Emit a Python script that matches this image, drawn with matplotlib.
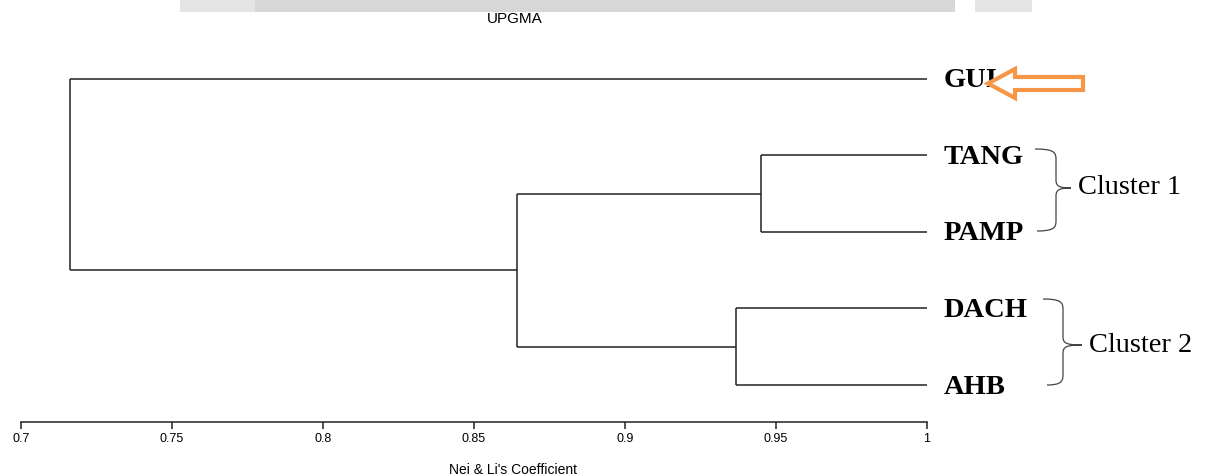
import numpy as np
import matplotlib.pyplot as plt
from matplotlib.path import Path
from matplotlib.patches import PathPatch, Polygon, Rectangle

# leaves (top to bottom) and UPGMA merges: node ids 0-4 are leaves, 5.. are new clusters
leaves = ['GUI', 'TANG', 'PAMP', 'DACH', 'AHB']
merge_left = [1, 3, 5, 0]
merge_right = [2, 4, 6, 7]
merge_sim = [0.945, 0.937, 0.8645, 0.7163]

clusters = ['Cluster 1', 'Cluster 2']
cluster_members = [(1, 2), (3, 4)]

xticks = [0.7, 0.75, 0.8, 0.85, 0.9, 0.95, 1.0]
xtick_labels = ['0.7', '0.75', '0.8', '0.85', '0.9', '0.95', '1']

W, H = 1205, 476
fig = plt.figure(figsize=(W / 100, H / 100), dpi=100)


def px(x, y):
    # pixel (top-left origin) -> figure fraction
    return (x / W, 1 - y / H)


# watermark band at the top
for x0, x1, col in [(180, 255, '#e4e4e4'), (255, 955, '#d7d7d7'), (975, 1032, '#e4e4e4')]:
    fig.patches.append(Rectangle(px(x0, 11.5), (x1 - x0) / W, 11.5 / H,
                                 transform=fig.transFigure, color=col, lw=0, zorder=0))

ax = fig.add_axes([20.7 / W, (H - 422) / H, 906 / W, 382 / H])
ax.set_xlim(0.7, 1.0)
ax.set_ylim(4.482, -0.505)

# dendrogram
node_x = {i: 1.0 for i in range(len(leaves))}
node_y = {i: float(i) for i in range(len(leaves))}
line_kw = dict(color='#222222', lw=1.1, solid_capstyle='butt')
for k, (l, r, s) in enumerate(zip(merge_left, merge_right, merge_sim)):
    nid = len(leaves) + k
    ax.plot([s, s], [node_y[l], node_y[r]], **line_kw)
    ax.plot([s, node_x[l]], [node_y[l], node_y[l]], **line_kw)
    ax.plot([s, node_x[r]], [node_y[r], node_y[r]], **line_kw)
    node_x[nid] = s
    node_y[nid] = (node_y[l] + node_y[r]) / 2

for i, name in enumerate(leaves):
    ax.annotate(name, (1.0, i), xytext=(12, -1.5), textcoords='offset points',
                ha='left', va='center', fontsize=20.5, fontweight='bold',
                family='Liberation Serif', annotation_clip=False)

for sp in ['top', 'right', 'left']:
    ax.spines[sp].set_visible(False)
ax.spines['bottom'].set_color('#222222')
ax.spines['bottom'].set_linewidth(1.1)
ax.set_yticks([])
ax.set_xticks(xticks)
ax.set_xticklabels(xtick_labels, family='Liberation Sans', fontsize=9)
ax.tick_params(axis='x', direction='out', length=5, width=1.1, color='#222222', pad=3)

fig.text(*px(513, 470), "Nei & Li's Coefficient", ha='center', va='center',
         family='Liberation Sans', fontsize=10)
fig.text(*px(515, 19), 'UPGMA', ha='center', va='center',
         family='Liberation Sans', fontsize=11)

# curly braces for clusters
braces = [(1035, 1037, 149, 231, 1056, 1071, 188), (1043, 1047, 299, 385, 1063, 1082, 345)]
for (xa, xb, y0, y1, xm, xt, ym), name in zip(braces, clusters):
    pts = [(xa, y0), (xm - 3, y0), (xm, y0 + 3), (xm, y0 + 10),
           (xm, ym - 8),
           (xm, ym - 2), (xm + 3, ym), (xt, ym),
           (xm + 3, ym), (xm, ym + 2), (xm, ym + 8),
           (xm, y1 - 10),
           (xm, y1 - 3), (xm - 3, y1), (xb, y1)]
    codes = [Path.MOVETO, Path.CURVE4, Path.CURVE4, Path.CURVE4, Path.LINETO,
             Path.CURVE4, Path.CURVE4, Path.CURVE4,
             Path.CURVE4, Path.CURVE4, Path.CURVE4, Path.LINETO,
             Path.CURVE4, Path.CURVE4, Path.CURVE4]
    path = Path([px(x, y) for x, y in pts], codes)
    fig.patches.append(PathPatch(path, transform=fig.transFigure, fill=False,
                                 edgecolor='#444444', lw=0.9))
    fig.text(*px(xt + 7, ym), name, ha='left', va='center',
             family='Liberation Serif', fontsize=20.5)

# hollow orange arrow pointing at GUI
arrow = [(988, 83.5), (1015, 69), (1015, 77), (1083, 77), (1083, 90), (1015, 90), (1015, 98)]
fig.patches.append(Polygon([px(x, y) for x, y in arrow], closed=True,
                           transform=fig.transFigure, facecolor='white',
                           edgecolor='#f79646', lw=3, joinstyle='miter', zorder=5))

fig.savefig('out.png', dpi=100)
